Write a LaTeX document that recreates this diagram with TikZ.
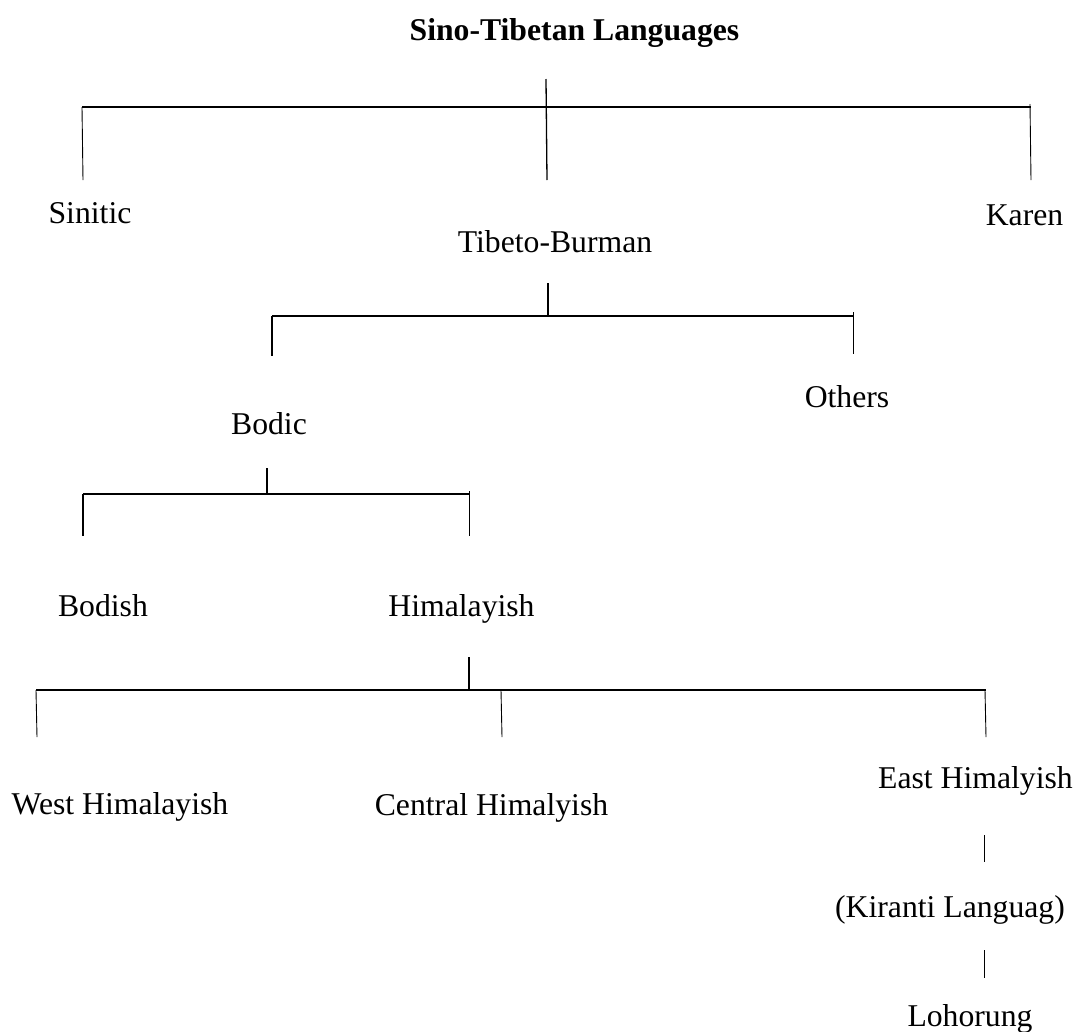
\documentclass[tikz,border=0pt]{standalone}
\usepackage{fontspec}
\setmainfont{Liberation Serif}
\newcommand{\lbl}{\fontsize{31.7}{38}\selectfont}
\begin{document}
\begin{tikzpicture}[x=1pt,y=-1pt,
  lang/.style={font=\lbl, inner sep=0pt, anchor=base},
  headline/.style={font=\lbl\bfseries, inner sep=0pt, anchor=base},
  bar/.style={line width=1.6pt},
  stem/.style={line width=1.3pt},
  leg/.style={line width=0.9pt}]
\useasboundingbox (0,0) rectangle (1079,1031);
\fill[white] (0,0) rectangle (1079,1031);

% labels
\node[headline] (root) at (574.5,40) {Sino-Tibetan Languages};
\node[lang] (sinitic) at (90,223) {Sinitic};
\node[lang] (karen) at (1024.5,225) {Karen};
\node[lang] (tb) at (555,252) {Tibeto-Burman};
\node[lang] (others) at (847,407) {Others};
\node[lang] (bodic) at (269,434) {Bodic};
\node[lang] (bodish) at (103,616) {Bodish};
\node[lang] (himal) at (461.5,616) {Himalayish};
\node[lang] (west) at (120,814) {West Himalayish};
\node[lang] (central) at (491.5,815) {Central Himalyish};
\node[lang] (east) at (975.5,788) {East Himalyish};
\node[lang] (kiranti) at (950,917) {(Kiranti Languag)};
\node[lang] (lohorung) at (970,1026) {Lohorung};

% level 1: Sino-Tibetan
\coordinate (a0) at (546,79);
\coordinate (aL) at (82,107);
\coordinate (aR) at (1031,107);
\coordinate (aLb) at (83,180);
\coordinate (aRt) at (1030,104);
\coordinate (aRb) at (1031,180);
\coordinate (aMb) at (547,180);
\draw[bar] (aL) -- (aR);
\draw[stem] (a0) -- (aMb);
\draw[leg] (aL) -- (aLb);
\draw[leg] (aRt) -- (aRb);

% level 2: Tibeto-Burman
\coordinate (b0) at (548,283);
\coordinate (bM) at (548,316);
\coordinate (bL) at (272,316);
\coordinate (bR) at (854,316);
\coordinate (bLb) at (272,356);
\coordinate (bRt) at (853,312);
\coordinate (bRb) at (853,354);
\draw[stem] (b0) -- (bM);
\draw[bar] (bL) -- (bR);
\draw[stem] (bL) -- (bLb);
\draw[leg] (bRt) -- (bRb);

% level 3: Bodic
\coordinate (c0) at (267,468);
\coordinate (cM) at (267,494);
\coordinate (cL) at (83,494);
\coordinate (cR) at (470,494);
\coordinate (cLb) at (83,536);
\coordinate (cRt) at (469,491);
\coordinate (cRb) at (469,536);
\draw[stem] (c0) -- (cM);
\draw[bar] (cL) -- (cR);
\draw[stem] (cL) -- (cLb);
\draw[leg] (cRt) -- (cRb);

% level 4: Himalayish
\coordinate (d0) at (469,657);
\coordinate (dM) at (469,690);
\coordinate (dL) at (36,690);
\coordinate (dR) at (986,690);
\coordinate (dLb) at (37,737);
\coordinate (dC) at (501,690);
\coordinate (dCb) at (502,737);
\coordinate (dRt) at (985,690);
\coordinate (dRb) at (986,737);
\draw[stem] (d0) -- (dM);
\draw[bar] (dL) -- (dR);
\draw[leg] (dL) -- (dLb);
\draw[leg] (dC) -- (dCb);
\draw[leg] (dRt) -- (dRb);

% East Himalayish chain
\coordinate (e1) at (984,835);
\coordinate (e2) at (984,862);
\coordinate (e3) at (984,950);
\coordinate (e4) at (984,978);
\draw[leg] (e1) -- (e2);
\draw[leg] (e3) -- (e4);
\end{tikzpicture}
\end{document}
